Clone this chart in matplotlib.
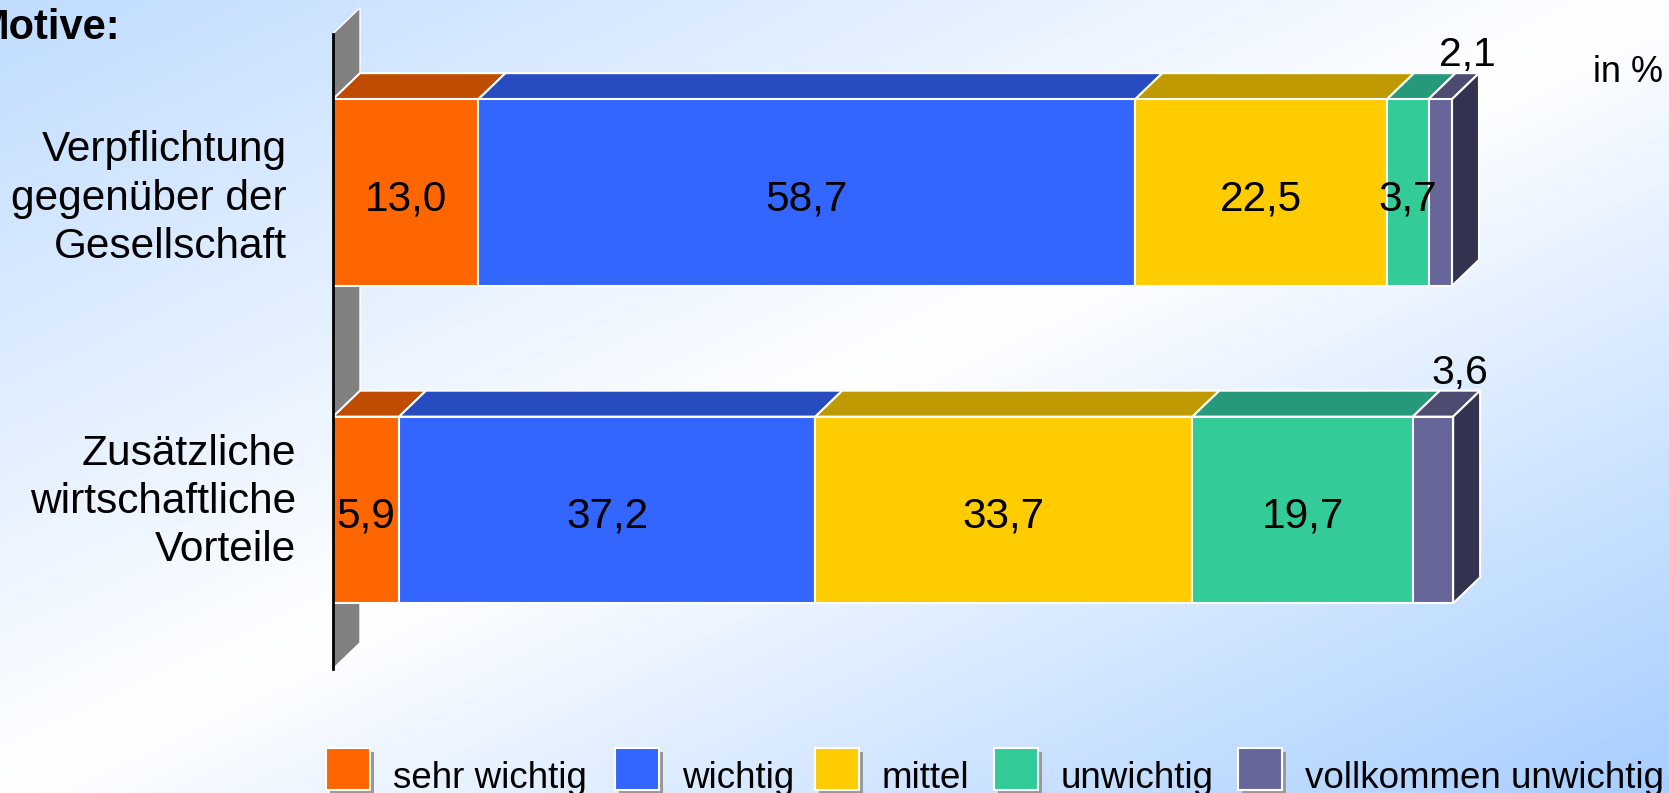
import matplotlib.pyplot as plt
import numpy as np
from matplotlib.patches import Polygon, Rectangle

plt.rcParams['font.family'] = ['Liberation Sans', 'DejaVu Sans']

categories = ['Verpflichtung\ngegenüber der\nGesellschaft',
              'Zusätzliche\nwirtschaftliche\nVorteile']
levels = ['sehr wichtig', 'wichtig', 'mittel', 'unwichtig', 'vollkommen unwichtig']
verpflichtung = [13.0, 58.7, 22.5, 3.7, 2.1]
vorteile = [5.9, 37.2, 33.7, 19.7, 3.6]
series = [verpflichtung, vorteile]

front_colors = ['#FF6600', '#3366FF', '#FFCC00', '#33CC99', '#666699']
top_colors = ['#BF4C00', '#264CBF', '#BF9900', '#26997A', '#4C4C73']
side_color = '#333350'

W, H = 1669, 793
fig = plt.figure(figsize=(W / 100, H / 100), dpi=100)

# background layer in pixel coords
bg = fig.add_axes([0, 0, 1, 1])
bg.set_xlim(0, W)
bg.set_ylim(H, 0)
bg.axis('off')
yy, xx = np.mgrid[0:1:200j, 0:1:400j]
t = ((xx + yy) / 2)[..., None]
c0 = np.array([192, 220, 255]) / 255
c1 = np.array([1.0, 1.0, 1.0])
c2 = np.array([166, 206, 255]) / 255
img = np.where(t < 0.5, c0 + (c1 - c0) * (t / 0.5), c1 + (c2 - c1) * ((t - 0.5) / 0.5))
bg.imshow(img, extent=(0, W, H, 0), aspect='auto', interpolation='bilinear', zorder=0)

bg.text(120, 39, 'Motive:', ha='right', va='baseline', fontsize=30, fontweight='bold')
bg.text(1593, 82, 'in %', ha='left', va='baseline', fontsize=26)

# legend
legend_x = [326, 615, 815, 994, 1238]
for lx, lab, col in zip(legend_x, levels, front_colors):
    bg.add_patch(Rectangle((lx + 4, 752), 44, 42, fc='#999999', ec='none', zorder=2))
    bg.add_patch(Rectangle((lx, 748), 44, 42, fc=col, ec='white', lw=1.5, zorder=3))
    bg.text(lx + 44 + 23, 788, lab, ha='left', va='baseline', fontsize=26.5)

# chart layer
ax = fig.add_axes([0, 0, 1, 1])
ax.patch.set_alpha(0)
ax.axis('off')
px = 11.19          # pixels per percent
x0 = 333            # pixel position of 0 %
cat = 317.5         # pixels between bars
yc0 = 192.5         # pixel centre of first bar
ax.set_xlim(-x0 / px, (W - x0) / px)
ax.set_ylim((H - yc0) / cat, -yc0 / cat)

dx = 27 / px
dy = 26 / cat
bh = 0.588

# side wall
ax.add_patch(Polygon([(0, 1.5), (0, -0.5), (dx, -0.5 - dy), (dx, 1.5 - dy)],
                     closed=True, fc='#808080', ec='white', lw=1, zorder=1))
ax.plot([0, 0], [-0.5, 1.5], color='black', lw=2, zorder=6)

label_x = [(287 - x0) / px, (296 - x0) / px]
label_dy = [0.019, -0.026]

for i, vals in enumerate(series):
    lefts = np.concatenate([[0], np.cumsum(vals)[:-1]])
    top = i - bh / 2
    bottom = i + bh / 2
    ax.barh(i, vals, left=lefts, height=bh, color=front_colors,
            edgecolor='white', linewidth=1.5, zorder=4)
    for l, w, tc in zip(lefts, vals, top_colors):
        ax.add_patch(Polygon([(l, top), (l + w, top), (l + w + dx, top - dy), (l + dx, top - dy)],
                             closed=True, fc=tc, ec='white', lw=1.5, zorder=3))
    R = lefts[-1] + vals[-1]
    ax.add_patch(Polygon([(R, top), (R + dx, top - dy), (R + dx, bottom - dy), (R, bottom)],
                         closed=True, fc=side_color, ec='white', lw=1.5, zorder=3))
    for j, (l, w) in enumerate(zip(lefts, vals)):
        s = f'{w:.1f}'.replace('.', ',')
        if j < len(vals) - 1:
            ax.text(l + w / 2, i + 17.5 / cat, s, ha='center', va='baseline',
                    fontsize=30.5, zorder=7)
        else:
            ax.text(l + w / 2 + dx, top - dy - 0.022, s, ha='center', va='baseline',
                    fontsize=29.5, zorder=7)
    ax.text(label_x[i], i + label_dy[i], categories[i], ha='right', va='center',
            multialignment='right', fontsize=30.5, linespacing=1.26, zorder=7)

fig.savefig('out.png', dpi=100)
